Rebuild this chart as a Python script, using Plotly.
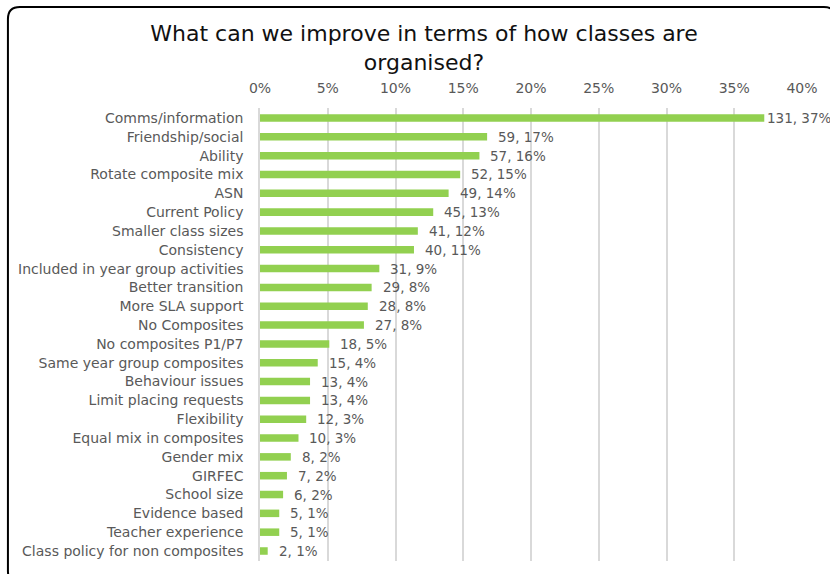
import plotly.graph_objects as go

# Survey responses: suggested improvements to class organisation
categories = [
    "Comms/information", "Friendship/social", "Ability", "Rotate composite mix",
    "ASN", "Current Policy", "Smaller class sizes", "Consistency",
    "Included in year group activities", "Better transition", "More SLA support",
    "No Composites", "No composites P1/P7", "Same year group composites",
    "Behaviour issues", "Limit placing requests", "Flexibility",
    "Equal mix in composites", "Gender mix", "GIRFEC", "School size",
    "Evidence based", "Teacher experience", "Class policy for non composites",
]
counts = [131, 59, 57, 52, 49, 45, 41, 40, 31, 29, 28, 27, 18, 15, 13, 13, 12,
          10, 8, 7, 6, 5, 5, 2]
total_responses = 352
tick_values = [0, 0.05, 0.10, 0.15, 0.20, 0.25, 0.30, 0.35, 0.40]
tick_labels = ["0%", "5%", "10%", "15%", "20%", "25%", "30%", "35%", "40%"]

shares = [c / total_responses for c in counts]
labels = [f"{c}, {round(100 * s)}%" for c, s in zip(counts, shares)]

W, H = 830, 574
ML, MR, MT, MB = 260, 26, 108, 13
PW, PH = W - ML - MR, H - MT - MB

GREEN = "#92D050"
GREY_TXT = "#595959"
GRID = "#D9D9D9"
FONT = "DejaVu Sans, Verdana, sans-serif"

fig = go.Figure(
    go.Bar(
        x=shares,
        y=categories,
        orientation="h",
        marker=dict(color=GREEN, line=dict(width=0)),
        width=0.4,
        hoverinfo="skip",
    )
)

# value labels placed just beyond each bar end
top = max(counts)
for cat, s, c, lab in zip(categories, shares, counts, labels):
    fig.add_annotation(
        x=s, y=cat, text=lab, showarrow=False,
        xanchor="left", yanchor="middle",
        xshift=1 if c == top else 9,
        font=dict(family=FONT, size=13.5, color=GREY_TXT),
    )


def px_x(p):
    return (p - ML) / PW


def px_y(p):
    return (H - MB - p) / PH


# rounded outer frame
x0, x1, y0, y1, r = 7, 838, 7, 583, 12
path = (
    f"M {px_x(x0 + r)},{px_y(y0)} L {px_x(x1 - r)},{px_y(y0)} "
    f"Q {px_x(x1)},{px_y(y0)} {px_x(x1)},{px_y(y0 + r)} "
    f"L {px_x(x1)},{px_y(y1 - r)} Q {px_x(x1)},{px_y(y1)} {px_x(x1 - r)},{px_y(y1)} "
    f"L {px_x(x0 + r)},{px_y(y1)} Q {px_x(x0)},{px_y(y1)} {px_x(x0)},{px_y(y1 - r)} "
    f"L {px_x(x0)},{px_y(y0 + r)} Q {px_x(x0)},{px_y(y0)} {px_x(x0 + r)},{px_y(y0)} Z"
)
fig.add_shape(type="path", path=path, xref="paper", yref="paper",
              line=dict(color="#000000", width=2), layer="above")

fig.update_layout(
    width=W, height=H,
    margin=dict(l=ML, r=MR, t=MT, b=MB, pad=0),
    paper_bgcolor="white", plot_bgcolor="white",
    showlegend=False,
    title=dict(
        text="What can we improve in terms of how classes are<br>organised?",
        x=424 / W, xanchor="center", xref="container",
        y=1 - 41 / H, yanchor="middle", yref="container",
        font=dict(family=FONT, size=22, color="#111111"),
    ),
    bargap=0.6,
)
fig.update_xaxes(
    side="top", range=[0, 0.4],
    tickvals=tick_values, ticktext=tick_labels,
    showgrid=True, gridcolor=GRID, gridwidth=1.5,
    zeroline=False, showline=False,
    ticks="outside", ticklen=8, tickcolor="rgba(0,0,0,0)",
    tickfont=dict(family=FONT, size=14, color=GREY_TXT),
    fixedrange=True,
)
fig.update_yaxes(
    autorange="reversed", showgrid=False, zeroline=False,
    showline=True, linecolor=GRID, linewidth=1.5,
    ticks="outside", ticklen=12, tickcolor="rgba(0,0,0,0)",
    tickfont=dict(family=FONT, size=14, color=GREY_TXT),
    fixedrange=True,
)

fig.write_html("out.html")
